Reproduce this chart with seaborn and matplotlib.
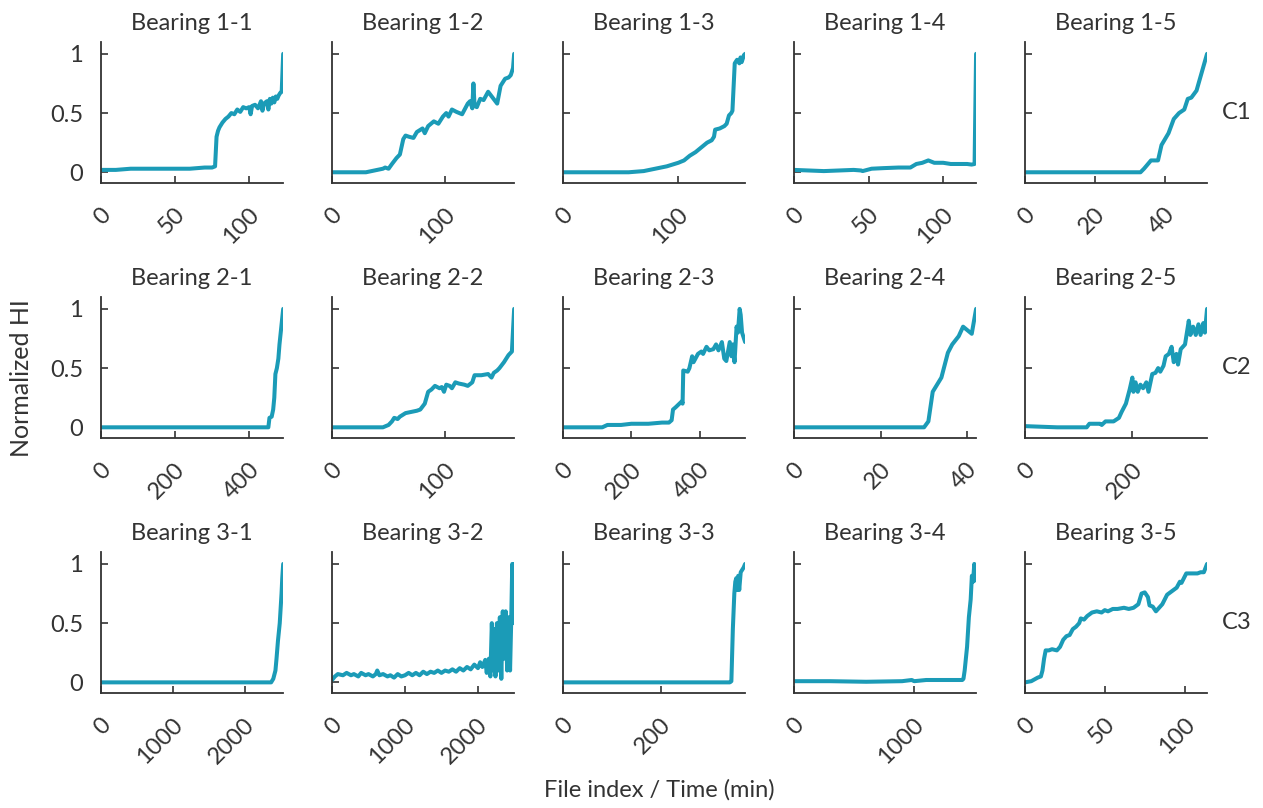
import numpy as np
import pandas as pd
import matplotlib
matplotlib.use("Agg")
import matplotlib.pyplot as plt
import matplotlib.transforms as mtransforms
import seaborn as sns

# normalized health indicator curves
b11_x = [0, 10, 20, 30, 40, 50, 60, 70, 75, 77, 78, 79, 80, 82, 84, 86, 88, 90, 92, 94, 96, 98, 100, 101, 102, 104, 106, 108, 109, 110, 112, 113, 114, 115, 116, 117, 118, 119, 120, 121, 122, 123]
b11_hi = [0.02, 0.02, 0.03, 0.03, 0.03, 0.03, 0.03, 0.04, 0.04, 0.05, 0.30, 0.35, 0.38, 0.42, 0.45, 0.47, 0.50, 0.49, 0.53, 0.51, 0.55, 0.54, 0.55, 0.49, 0.56, 0.57, 0.54, 0.60, 0.52, 0.58, 0.60, 0.53, 0.62, 0.58, 0.63, 0.59, 0.64, 0.62, 0.65, 0.67, 0.68, 1.00]

b12_x = [0, 10, 20, 30, 40, 45, 47, 50, 53, 57, 60, 63, 65, 68, 72, 75, 80, 82, 85, 90, 94, 98, 101, 103, 106, 110, 115, 120, 122, 124, 125, 126, 128, 131, 134, 138, 142, 146, 149, 153, 156, 158, 160, 161]
b12_hi = [0.00, 0.00, 0.00, 0.00, 0.02, 0.03, 0.04, 0.03, 0.07, 0.12, 0.15, 0.28, 0.31, 0.30, 0.29, 0.34, 0.37, 0.33, 0.39, 0.43, 0.41, 0.47, 0.50, 0.47, 0.53, 0.51, 0.49, 0.58, 0.60, 0.54, 0.75, 0.56, 0.55, 0.62, 0.61, 0.68, 0.63, 0.58, 0.73, 0.79, 0.80, 0.82, 0.88, 1.00]

b13_x = [0, 20, 40, 57, 70, 80, 90, 100, 105, 110, 115, 120, 125, 129, 131, 132, 136, 140, 142, 144, 146, 147, 149, 151, 153, 154, 155, 157, 158]
b13_hi = [0.00, 0.00, 0.00, 0.00, 0.01, 0.03, 0.05, 0.08, 0.10, 0.14, 0.17, 0.21, 0.25, 0.27, 0.30, 0.36, 0.37, 0.39, 0.41, 0.48, 0.50, 0.52, 0.92, 0.95, 0.92, 0.97, 0.93, 0.99, 1.00]

b14_x = [0, 10, 20, 30, 40, 45, 46, 52, 60, 70, 78, 82, 86, 90, 94, 100, 105, 110, 116, 119, 121, 122]
b14_hi = [0.02, 0.015, 0.01, 0.015, 0.02, 0.015, 0.01, 0.03, 0.035, 0.04, 0.04, 0.07, 0.08, 0.10, 0.08, 0.08, 0.07, 0.07, 0.07, 0.065, 0.07, 1.00]

b15_x = [0, 10, 20, 30, 33, 34, 36, 38, 39, 41, 42.5, 44, 45.5, 46.5, 47.5, 49, 52]
b15_hi = [0.00, 0.00, 0.00, 0.00, 0.00, 0.03, 0.10, 0.10, 0.23, 0.33, 0.45, 0.50, 0.53, 0.62, 0.63, 0.69, 1.00]

b21_x = [0, 100, 200, 300, 400, 451, 454, 460, 464, 467, 470, 474, 478, 481, 486, 491]
b21_hi = [0.00, 0.00, 0.00, 0.00, 0.00, 0.00, 0.08, 0.09, 0.15, 0.25, 0.45, 0.50, 0.58, 0.70, 0.85, 1.00]

b22_x = [0, 20, 45, 50, 53, 55, 58, 60, 65, 70, 75, 78, 82, 85, 88, 91, 95, 97, 99, 101, 104, 106, 109, 112, 117, 120, 124, 126, 132, 138, 141, 143, 146, 148, 152, 156, 159, 161]
b22_hi = [0.00, 0.00, 0.00, 0.02, 0.05, 0.08, 0.07, 0.09, 0.12, 0.13, 0.14, 0.15, 0.20, 0.30, 0.32, 0.35, 0.33, 0.34, 0.30, 0.36, 0.35, 0.33, 0.38, 0.37, 0.36, 0.35, 0.38, 0.44, 0.44, 0.45, 0.42, 0.46, 0.48, 0.50, 0.55, 0.61, 0.64, 1.00]

b23_x = [0, 60, 115, 130, 170, 200, 250, 290, 310, 318, 322, 330, 348, 350, 352, 365, 370, 378, 382, 395, 405, 410, 420, 428, 440, 448, 455, 465, 472, 478, 488, 493, 497, 502, 508, 512, 517, 520, 524, 533]
b23_hi = [0.00, 0.00, 0.00, 0.02, 0.02, 0.03, 0.03, 0.04, 0.04, 0.06, 0.15, 0.17, 0.22, 0.20, 0.48, 0.47, 0.50, 0.60, 0.55, 0.62, 0.64, 0.62, 0.68, 0.65, 0.66, 0.70, 0.65, 0.72, 0.58, 0.56, 0.72, 0.60, 0.70, 0.55, 0.85, 0.80, 1.00, 0.95, 0.80, 0.72]

b24_x = [0, 10, 20, 30, 31, 32, 34, 35.5, 36.5, 38, 39, 41, 42]
b24_hi = [0.00, 0.00, 0.00, 0.00, 0.05, 0.30, 0.42, 0.63, 0.70, 0.77, 0.85, 0.79, 1.00]

b25_x = [0, 60, 115, 120, 140, 143, 150, 165, 175, 180, 188, 195, 200, 202, 206, 210, 215, 220, 226, 230, 237, 243, 248, 252, 258, 262, 268, 273, 277, 282, 285, 290, 298, 305, 308, 313, 318, 323, 327, 332, 335, 339]
b25_hi = [0.01, 0.00, 0.00, 0.03, 0.03, 0.02, 0.05, 0.05, 0.08, 0.13, 0.20, 0.32, 0.42, 0.30, 0.38, 0.30, 0.36, 0.33, 0.38, 0.30, 0.45, 0.46, 0.50, 0.47, 0.52, 0.60, 0.62, 0.68, 0.55, 0.62, 0.53, 0.66, 0.70, 0.90, 0.78, 0.85, 0.78, 0.87, 0.78, 0.88, 0.80, 1.00]

b31_x = [0, 500, 1000, 1500, 2000, 2370, 2400, 2430, 2445, 2465, 2490, 2500, 2515, 2525, 2538]
b31_hi = [0.00, 0.00, 0.00, 0.00, 0.00, 0.00, 0.03, 0.10, 0.20, 0.35, 0.50, 0.60, 0.75, 0.88, 1.00]

b32_x = [0, 40, 80, 150, 200, 260, 300, 360, 400, 460, 500, 560, 600, 620, 650, 700, 760, 800, 850, 900, 950, 1000, 1050, 1100, 1150, 1200, 1250, 1300, 1350, 1400, 1450, 1500, 1550, 1600, 1650, 1700, 1750, 1800, 1850, 1900, 1950, 2000, 2030, 2060, 2100, 2120, 2150, 2170, 2190, 2210, 2220, 2240, 2260, 2280, 2300, 2320, 2340, 2360, 2380, 2400, 2420, 2440, 2455, 2470, 2480, 2490, 2496]
b32_hi = [0.02, 0.05, 0.07, 0.06, 0.08, 0.06, 0.07, 0.05, 0.08, 0.06, 0.07, 0.05, 0.07, 0.10, 0.06, 0.07, 0.05, 0.06, 0.04, 0.07, 0.05, 0.06, 0.08, 0.06, 0.08, 0.06, 0.09, 0.07, 0.09, 0.08, 0.10, 0.08, 0.10, 0.09, 0.11, 0.09, 0.12, 0.10, 0.13, 0.11, 0.15, 0.12, 0.17, 0.13, 0.19, 0.08, 0.20, 0.05, 0.50, 0.10, 0.45, 0.05, 0.50, 0.10, 0.55, 0.03, 0.60, 0.20, 0.60, 0.10, 0.55, 0.10, 0.50, 1.00, 0.50, 1.00, 0.55]

b33_x = [0, 100, 200, 300, 340, 343, 346, 349, 351, 353, 355, 357, 359, 362, 365, 368, 371]
b33_hi = [0.00, 0.00, 0.00, 0.00, 0.00, 0.01, 0.45, 0.75, 0.85, 0.88, 0.78, 0.90, 0.78, 0.93, 0.95, 0.97, 1.00]

b34_x = [0, 300, 600, 900, 980, 1000, 1100, 1400, 1410, 1420, 1440, 1455, 1470, 1480, 1490, 1500, 1505, 1512, 1515]
b34_hi = [0.01, 0.01, 0.005, 0.01, 0.02, 0.01, 0.02, 0.02, 0.03, 0.10, 0.30, 0.55, 0.70, 0.90, 0.85, 1.00, 0.86, 0.98, 0.88]

b35_x = [0, 4, 8, 10, 11, 12, 13, 15, 17, 20, 22, 24, 26, 28, 30, 32, 34, 35, 37, 39, 42, 45, 48, 50, 52, 55, 58, 62, 65, 68, 71, 73, 75, 77, 78, 80, 82, 84, 86, 89, 92, 95, 97, 98, 101, 104, 108, 110, 112, 114]
b35_hi = [0.00, 0.01, 0.04, 0.05, 0.10, 0.20, 0.27, 0.27, 0.28, 0.27, 0.30, 0.36, 0.39, 0.40, 0.45, 0.47, 0.50, 0.54, 0.53, 0.56, 0.59, 0.60, 0.59, 0.61, 0.60, 0.62, 0.62, 0.63, 0.62, 0.63, 0.66, 0.75, 0.76, 0.72, 0.65, 0.64, 0.60, 0.63, 0.66, 0.74, 0.77, 0.80, 0.85, 0.84, 0.92, 0.92, 0.92, 0.93, 0.93, 1.00]

series = [
    [(b11_x, b11_hi), (b12_x, b12_hi), (b13_x, b13_hi), (b14_x, b14_hi), (b15_x, b15_hi)],
    [(b21_x, b21_hi), (b22_x, b22_hi), (b23_x, b23_hi), (b24_x, b24_hi), (b25_x, b25_hi)],
    [(b31_x, b31_hi), (b32_x, b32_hi), (b33_x, b33_hi), (b34_x, b34_hi), (b35_x, b35_hi)],
]
n_files = [[123, 161, 158, 122, 52],
           [491, 161, 533, 42, 339],
           [2538, 2496, 371, 1515, 114]]
xticks = [[[0, 50, 100], [0, 100], [0, 100], [0, 50, 100], [0, 20, 40]],
          [[0, 200, 400], [0, 100], [0, 200, 400], [0, 20, 40], [0, 200]],
          [[0, 1000, 2000], [0, 1000, 2000], [0, 200], [0, 1000], [0, 50, 100]]]
conditions = ["C1", "C2", "C3"]

sns.set_style("ticks")
plt.rcParams['font.family'] = ['Lato', 'DejaVu Sans']
ink = "#333333"
line_color = "#1b9bb7"
fs = 17

fig, axes = plt.subplots(3, 5, figsize=(12.63, 8.08), dpi=100)
fig.subplots_adjust(left=0.080, right=0.9557, bottom=0.1423, top=0.948,
                    wspace=0.268, hspace=0.81)
# shift rotated x tick labels so their right edge sits ~14 px right of the tick
shift = mtransforms.ScaledTranslation(14 / 100, 0, fig.dpi_scale_trans)

for r in range(3):
    for c in range(5):
        ax = axes[r, c]
        x, hi = series[r][c]
        df = pd.DataFrame({"x": x, "hi": hi})
        sns.lineplot(data=df, x="x", y="hi", ax=ax, color=line_color,
                     linewidth=2.9, estimator=None)
        ax.set_xlim(0, n_files[r][c])
        ax.set_ylim(-0.09, 1.10)
        ax.set_xlabel("")
        ax.set_ylabel("")
        ax.set_xticks(xticks[r][c])
        ax.set_yticks([0, 0.5, 1])
        ax.tick_params(direction="in", length=5, width=1.2, color=ink,
                       labelsize=fs, labelcolor=ink)
        ax.tick_params(axis="y", pad=13)
        ax.tick_params(axis="x", pad=15)
        ax.set_xticklabels([str(t) for t in xticks[r][c]], rotation=45,
                           ha="right")
        for lab in ax.get_xticklabels():
            lab.set_transform(lab.get_transform() + shift)
        if c == 0:
            ax.set_yticklabels(["0", "0.5", "1"])
        else:
            ax.set_yticklabels([])
        for s in ["left", "bottom"]:
            ax.spines[s].set_color(ink)
            ax.spines[s].set_linewidth(1.3)
        sns.despine(ax=ax)
        ax.set_title(f"Bearing {r+1}-{c+1}", fontsize=fs, color=ink, pad=9)
    axes[r, 4].text(1.08, 0.5, conditions[r], transform=axes[r, 4].transAxes,
                    ha="left", va="center", fontsize=fs, color=ink)

fig.text(22 / 1263, 1 - 378 / 808, "Normalized HI", rotation=90,
         ha="center", va="center", fontsize=fs + 1, color=ink)
fig.text(0.522, 0.022, "File index / Time (min)", ha="center", va="center",
         fontsize=fs, color=ink)

plt.savefig("out.png", dpi=100)
